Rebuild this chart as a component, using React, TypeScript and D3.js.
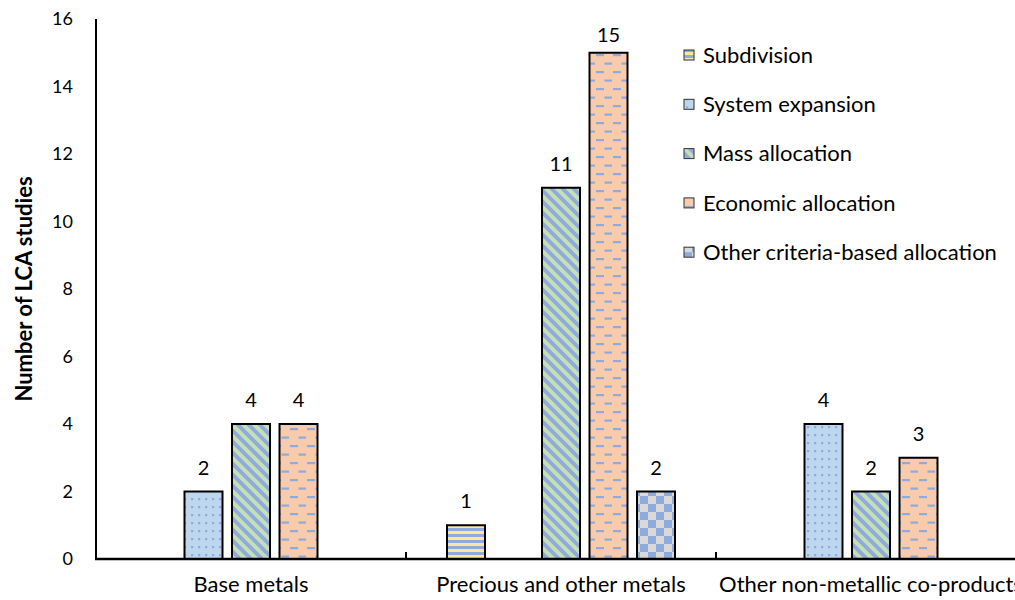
import React from "react";
import * as d3 from "d3";

const categories = ["Base metals", "Precious and other metals", "Other non-metallic co-products"];
const seriesNames = ["Subdivision", "System expansion", "Mass allocation", "Economic allocation", "Other criteria-based allocation"];
// values per series, indexed by category (null = no bar)
const subdivision = [null, 1, null];
const systemExpansion = [2, null, 4];
const massAllocation = [4, 11, 2];
const economicAllocation = [4, 15, 3];
const otherCriteria = [null, 2, null];
const yTicks = [0, 2, 4, 6, 8, 10, 12, 14, 16];

const seriesValues = [subdivision, systemExpansion, massAllocation, economicAllocation, otherCriteria];
const patternIds = ["p-sub", "p-sys", "p-mass", "p-econ", "p-other"];

const W = 1015, H = 600;
const FONT = "Lato, 'Open Sans', sans-serif";

export default function App() {
  const x0 = d3.scaleBand<string>().domain(categories).range([96, 1026]).padding(0);
  const x1 = d3.scaleBand<string>().domain(seriesNames).range([0, x0.bandwidth()]).paddingInner(0.2).paddingOuter(0.863);
  const y = d3.scaleLinear().domain([0, 16]).range([559, 19]);

  const bars: any[] = [];
  seriesValues.forEach((vals, si) => {
    vals.forEach((v, ci) => {
      if (v == null) return;
      bars.push({ si, ci, v });
    });
  });

  const boundaries = [1, 2].map((i) => x0.range()[0] + i * x0.step());

  return (
    <svg width={W} height={H} style={{ position: "absolute", left: 0, top: 0, background: "#fff" }} fontFamily={FONT}>
      <defs>
        <pattern id="p-sub" patternUnits="userSpaceOnUse" width={8} height={6}>
          <rect width={8} height={6} fill="#FFE699" />
          <rect width={8} height={3} fill="#8FAADC" />
        </pattern>
        <pattern id="p-sys" patternUnits="userSpaceOnUse" width={7} height={8}>
          <rect width={7} height={8} fill="#BDD7EE" />
          <rect x={2} y={2} width={2.2} height={2.2} fill="#8FAADC" />
        </pattern>
        <pattern id="p-mass" patternUnits="userSpaceOnUse" width={11} height={11}>
          <rect width={11} height={11} fill="#C5E0B4" />
          <path d="M-2,-2 L13,13 M-2,9 L2,13 M9,-2 L13,2" stroke="#8FAADC" strokeWidth={3.8} />
        </pattern>
        <pattern id="p-econ" patternUnits="userSpaceOnUse" width={17} height={17}>
          <rect width={17} height={17} fill="#F8CBAD" />
          <rect x={1} y={3} width={8} height={2.2} fill="#8FAADC" />
          <rect x={9.5} y={11.5} width={8} height={2.2} fill="#8FAADC" />
        </pattern>
        <pattern id="p-other" patternUnits="userSpaceOnUse" width={16} height={16}>
          <rect width={16} height={16} fill="#D9D9D9" />
          <rect width={8} height={8} fill="#8FAADC" />
          <rect x={8} y={8} width={8} height={8} fill="#8FAADC" />
        </pattern>
      </defs>

      {/* bars */}
      {bars.map((b, i) => {
        const bx = (x0(categories[b.ci]) as number) + (x1(seriesNames[b.si]) as number);
        const bw = x1.bandwidth();
        const ly = Math.max(y(b.v) - 17, y(16) + 23);
        return (
          <g key={i}>
            <rect x={bx} y={y(b.v)} width={bw} height={y(0) - y(b.v)} fill={`url(#${patternIds[b.si]})`} stroke="#000" strokeWidth={2} />
            <text x={bx + bw / 2} y={ly} textAnchor="middle" fontSize={20} fill="#000">{b.v}</text>
          </g>
        );
      })}

      {/* axes */}
      <line x1={96} y1={y(16)} x2={96} y2={y(0)} stroke="#000" strokeWidth={2} />
      <line x1={95} y1={y(0)} x2={1026} y2={y(0)} stroke="#000" strokeWidth={2.5} />
      {boundaries.map((bx, i) => (
        <line key={i} x1={bx} y1={y(0)} x2={bx} y2={y(0) - 7} stroke="#000" strokeWidth={2} />
      ))}
      {yTicks.map((t) => (
        <text key={t} x={73} y={y(t)} dy="0.35em" textAnchor="end" fontSize={18} fill="#000">{t}</text>
      ))}
      {categories.map((c) => (
        <text key={c} x={(x0(c) as number) + x0.bandwidth() / 2} y={592} textAnchor="middle" fontSize={22} fill="#000">{c}</text>
      ))}
      <text transform={`translate(32,${(y(0) + y(16)) / 2}) rotate(-90)`} textAnchor="middle" fontSize={22} fontWeight="bold" fill="#000">Number of LCA studies</text>

      {/* legend */}
      {seriesNames.map((s, i) => (
        <g key={s} transform={`translate(684,${55 + i * 49.3})`}>
          <rect x={0} y={-5} width={10} height={10} fill={`url(#${patternIds[i]})`} stroke="#333" strokeWidth={1} />
          <text x={19} y={0} dy="0.35em" fontSize={22} fill="#000">{s}</text>
        </g>
      ))}
    </svg>
  );
}
